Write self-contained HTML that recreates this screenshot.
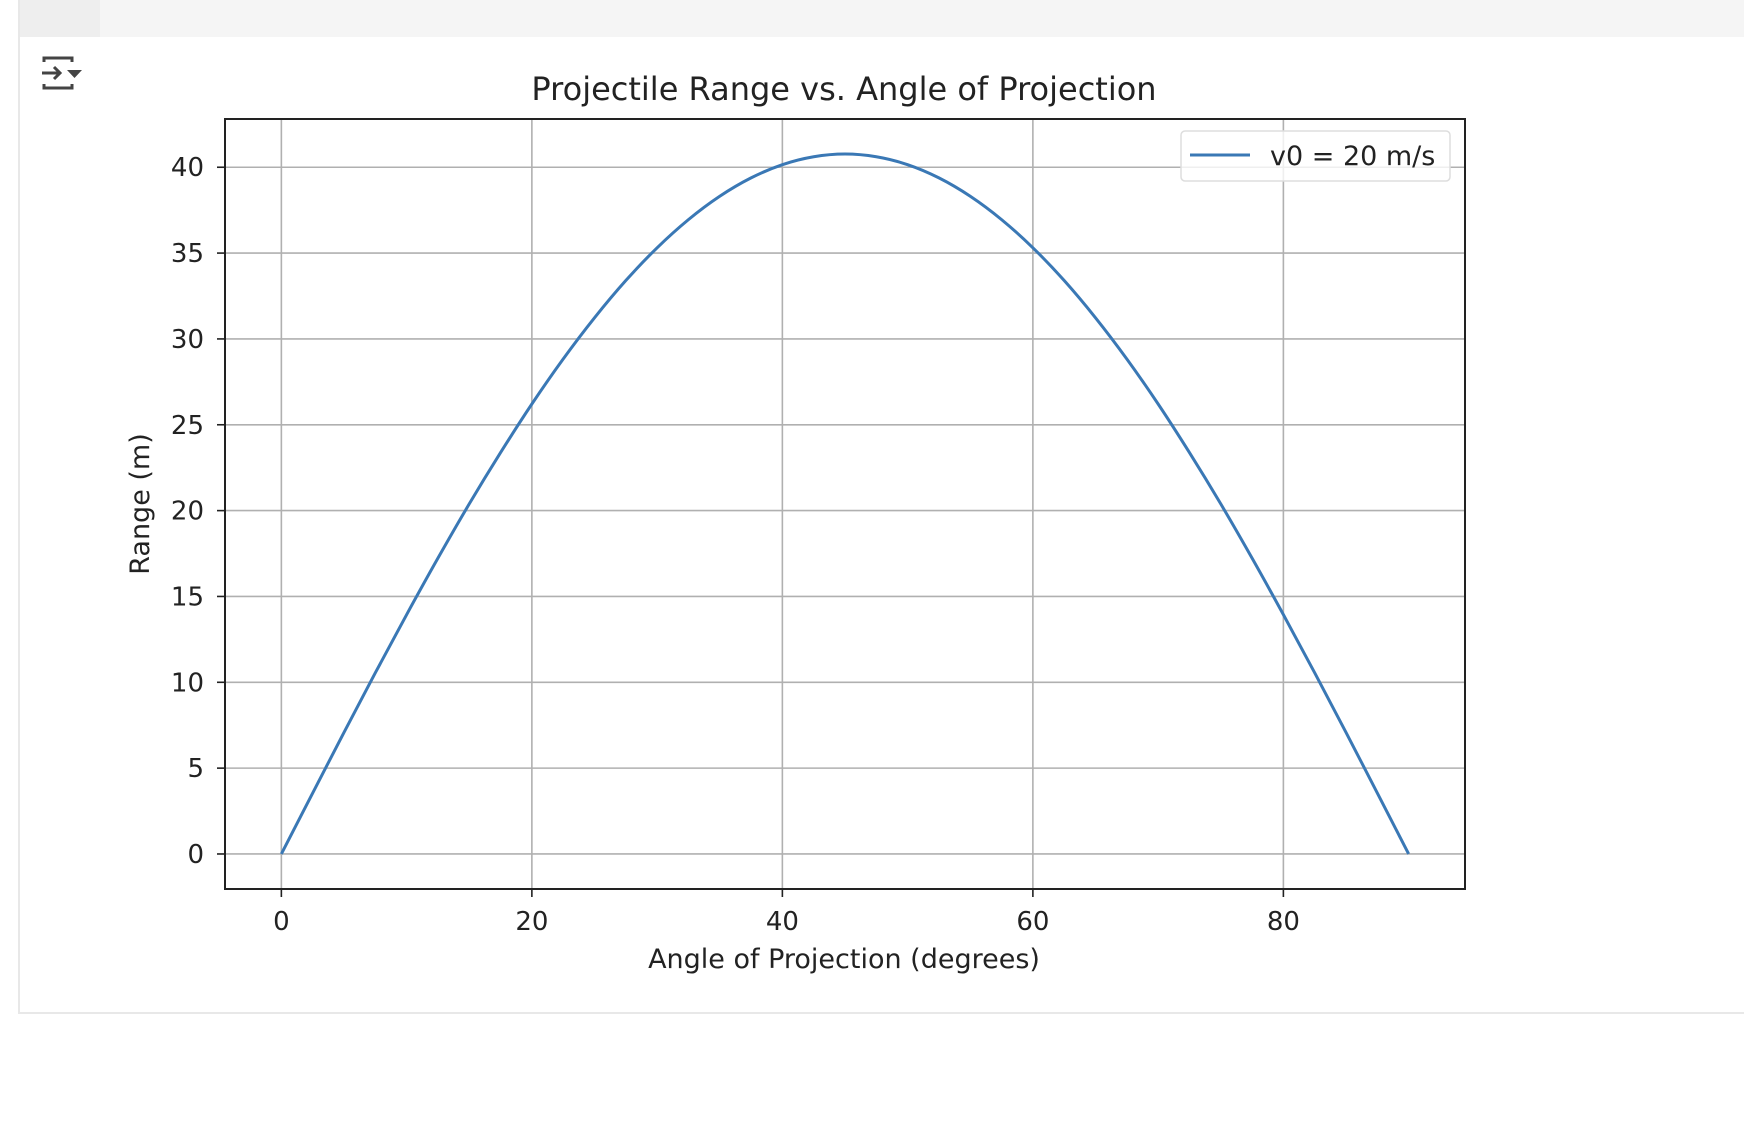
<!DOCTYPE html>
<html><head><meta charset="utf-8"><style>
body{margin:0;width:1744px;height:1130px;background:#fff;overflow:hidden;font-family:"DejaVu Sans","Liberation Sans",sans-serif;}
</style></head><body>
<svg width="1744" height="1130" viewBox="0 0 1744 1130" xmlns="http://www.w3.org/2000/svg">
<rect x="0" y="0" width="1744" height="1130" fill="#fff"/>
<rect x="19" y="0" width="1725" height="37" fill="#f5f5f5"/>
<rect x="20" y="0" width="80" height="37" fill="#eeeeee"/>
<rect x="18" y="0" width="2" height="1013" fill="#e8e8e8"/>
<rect x="18" y="1012" width="1726" height="2" fill="#e8e8e8"/>
<g stroke="#444" stroke-width="3" fill="none">
<path d="M44 62 v-4 h28 v4"/><path d="M44 84 v4 h28 v-4"/><path d="M42 73 h18 M54 67 l6 6 -6 6"/>
<path d="M67 70 h15 l-7.5 8z" fill="#444" stroke="none"/>
</g>
<text x="844" y="100" text-anchor="middle" font-size="32" fill="#222">Projectile Range vs. Angle of Projection</text>
<g id="grid"></g>
<g id="ticks"></g>
<path id="curve" fill="none" stroke="#3a78b5" stroke-width="3"/>
<rect x="225" y="119" width="1240" height="770" fill="none" stroke="#222" stroke-width="2"/>
<g>
<rect x="1181" y="131" width="269" height="50" rx="4" fill="#fff" fill-opacity="0.8" stroke="#ddd" stroke-width="1.5"/>
<line x1="1190" y1="155" x2="1250" y2="155" stroke="#3a78b5" stroke-width="3"/>
<text x="1270" y="165" font-size="27" fill="#222">v0 = 20 m/s</text>
</g>
<text x="844" y="968" text-anchor="middle" font-size="27" fill="#222">Angle of Projection (degrees)</text>
<text transform="translate(149,504) rotate(-90)" text-anchor="middle" font-size="27" fill="#222">Range (m)</text>
</svg>
<script>
const angles=[0,2.5,5,7.5,10,12.5,15,17.5,20,22.5,25,27.5,30,32.5,35,37.5,40,42.5,45,47.5,50,52.5,55,57.5,60,62.5,65,67.5,70,72.5,75,77.5,80,82.5,85,87.5,90];
const ranges=[0,3.55,7.08,10.55,13.94,17.23,20.39,23.38,26.21,28.83,31.23,33.40,35.31,36.95,38.31,39.38,40.15,40.61,40.77,40.61,40.15,39.38,38.31,36.95,35.31,33.40,31.23,28.83,26.21,23.38,20.39,17.23,13.94,10.55,7.08,3.55,0];
const xTicks=[0,20,40,60,80];
const yTicks=[0,5,10,15,20,25,30,35,40];
const L=225,R=1465,T=119,B=889,xmin=-4.5,xmax=94.5,ymin=-2.04,ymax=42.81;
const sx=v=>L+(v-xmin)/(xmax-xmin)*(R-L);
const sy=v=>B-(v-ymin)/(ymax-ymin)*(B-T);
const NS='http://www.w3.org/2000/svg';
const grid=document.getElementById('grid'),ticks=document.getElementById('ticks');
function mk(tag,attrs,parent){const e=document.createElementNS(NS,tag);for(const k in attrs)e.setAttribute(k,attrs[k]);parent.appendChild(e);return e;}
xTicks.forEach(t=>{const x=sx(t);
const g=mk('line',{x1:x,x2:x,y1:T,y2:B,stroke:'#b0b0b0','stroke-width':1.6},grid);


mk('line',{x1:x,x2:x,y1:B,y2:B+8,stroke:'#222','stroke-width':1.6},ticks);
const tx=mk('text',{x:x,y:930,'text-anchor':'middle','font-size':26,fill:'#222'},ticks);tx.textContent=t;


});
yTicks.forEach(t=>{const y=sy(t);
const g=mk('line',{x1:L,x2:R,y1:y,y2:y,stroke:'#b0b0b0','stroke-width':1.6},grid);


mk('line',{x1:L-8,x2:L,y1:y,y2:y,stroke:'#222','stroke-width':1.6},ticks);
const tx=mk('text',{x:204,y:y+9,'text-anchor':'end','font-size':26,fill:'#222'},ticks);tx.textContent=t;


});
const P=angles.map((a,i)=>[sx(a),sy(ranges[i])]);
let d='M'+P[0][0]+','+P[0][1];
for(let i=0;i<P.length-1;i++){const p0=P[Math.max(0,i-1)],p1=P[i],p2=P[i+1],p3=P[Math.min(P.length-1,i+2)];
d+=' C'+(p1[0]+(p2[0]-p0[0])/6)+','+(p1[1]+(p2[1]-p0[1])/6)+' '+(p2[0]-(p3[0]-p1[0])/6)+','+(p2[1]-(p3[1]-p1[1])/6)+' '+p2[0]+','+p2[1];}
document.getElementById('curve').setAttribute('d',d);
</script>
</body></html>
